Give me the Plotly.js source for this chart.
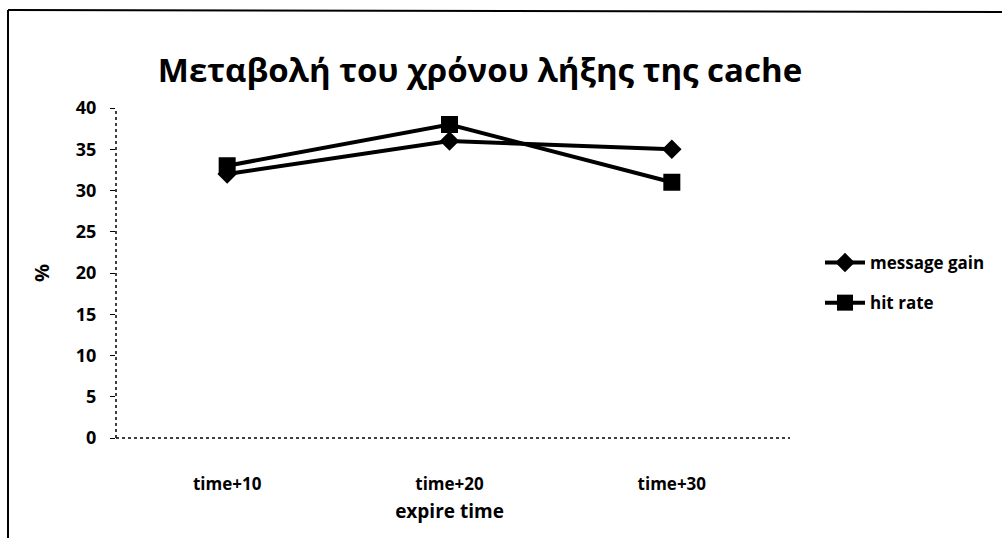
<!DOCTYPE html>
<html><head><meta charset="utf-8">
<script src="https://cdn.plot.ly/plotly-3.0.1.min.js"></script>
<style>body{margin:0;background:#fff}#c{width:1002px;height:538px}</style>
</head><body><div id="c"></div>
<script>
const categories = ["time+10", "time+20", "time+30"];
const messageGain = [32, 36, 35];
const hitRate = [33, 38, 31];
const yTicks = [0, 5, 10, 15, 20, 25, 30, 35, 40];

const F = "'Open Sans', 'DejaVu Sans', sans-serif";
const L = 116, R = 219, T = 108, B = 100;
const W = 1002 - L - R, H = 538 - T - B;
const px = v => (v - L) / W;
const py = v => 1 - (v - T) / H;

const traces = [
  {x: categories, y: messageGain, name: "<b>message gain</b>", legendgroup: "a", type: "scatter", mode: "lines+markers",
   line: {color: "#000", width: 4}, marker: {symbol: "diamond", size: 15, color: "#000"}},
  {x: categories, y: hitRate, name: "<b>hit rate</b>", legendgroup: "b", type: "scatter", mode: "lines+markers",
   line: {color: "#000", width: 4}, marker: {symbol: "square", size: 17, color: "#000"}}
];

const layout = {
  width: 1002, height: 538,
  margin: {l: L, r: R, t: T, b: B},
  paper_bgcolor: "#fff", plot_bgcolor: "#fff",
  showlegend: true,
  title: {text: "<b>Μεταβολή του χρόνου λήξης της cache</b>", font: {family: F, size: 33, color: "#000"},
          x: 480 / 1002, xanchor: "center", y: 1 - 70 / 538, yanchor: "middle"},
  xaxis: {type: "category", range: [-0.5, 2.5], showgrid: false, zeroline: false, showline: false,
          ticks: "", tickvals: categories, ticktext: categories.map(c => "<b>" + c + "</b>"),
          tickfont: {family: F, size: 17, color: "#000"}, ticklabelstandoff: 34,
          title: {text: "<b>expire time</b>", font: {family: F, size: 19, color: "#000"}, standoff: 10}},
  yaxis: {range: [0, 40], tickvals: yTicks, ticktext: yTicks.map(v => "<b>" + v + "</b>"),
          showgrid: false, zeroline: false, showline: false, ticks: "outside", ticklen: 5, tickcolor: "#000",
          tickfont: {family: F, size: 18, color: "#000"}, ticklabelstandoff: 10,
          title: {text: "<b>%</b>", font: {family: F, size: 20, color: "#000"}, standoff: 20}},
  legend: {x: px(820), xanchor: "left", y: py(283), yanchor: "middle", bgcolor: "rgba(0,0,0,0)",
           font: {family: F, size: 17, color: "#000"}, itemwidth: 40, tracegroupgap: 15},
  shapes: [
    {type: "line", xref: "paper", yref: "paper", x0: 0, x1: 0, y0: 0, y1: 1, line: {color: "#000", width: 1.5, dash: "dot"}},
    {type: "line", xref: "paper", yref: "paper", x0: 0, x1: px(790), y0: 0, y1: 0, line: {color: "#000", width: 1.5, dash: "dot"}},
    {type: "line", xref: "paper", yref: "paper", x0: px(8), x1: px(8), y0: py(10), y1: py(538), line: {color: "#000", width: 2}},
    {type: "line", xref: "paper", yref: "paper", x0: px(8), x1: px(1002), y0: py(10), y1: py(12), line: {color: "#000", width: 2}}
  ]
};
Plotly.newPlot("c", traces, layout, {staticPlot: true});
</script></body></html>
